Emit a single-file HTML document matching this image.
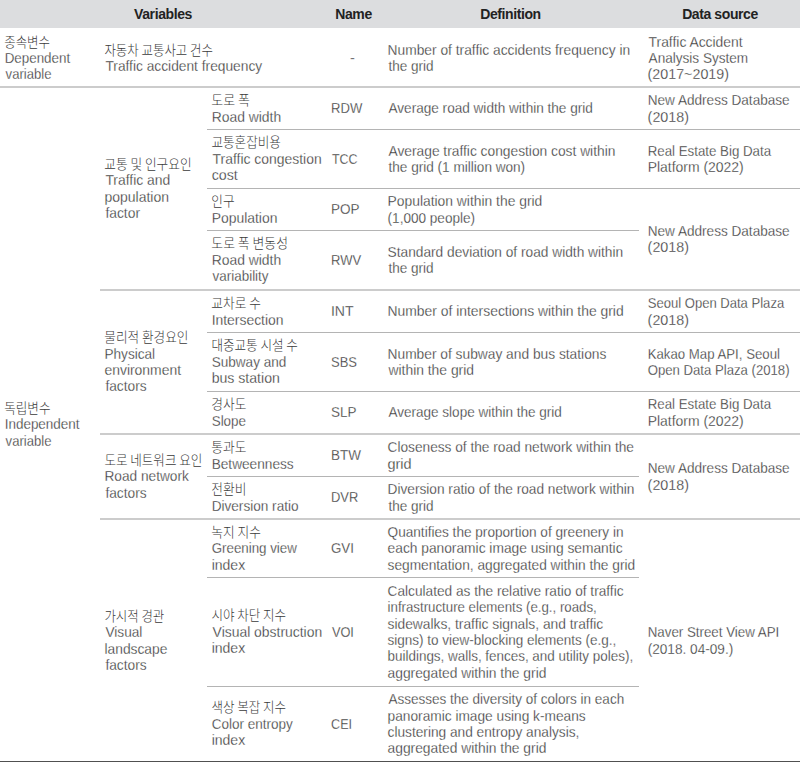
<!DOCTYPE html>
<html><head><meta charset="utf-8"><style>
html,body{margin:0;padding:0;background:#fff;}
body{width:800px;height:762px;position:relative;overflow:hidden;font-family:"Liberation Sans","Noto Sans CJK KR",sans-serif;font-size:14.6px;color:#303030;}
.hd{position:absolute;left:0;top:0;width:800px;height:28px;background:#dcdddf;}
.h{position:absolute;top:0;height:28px;line-height:28px;text-align:center;font-weight:bold;color:#222;font-size:14px;white-space:nowrap;letter-spacing:-0.4px;}
.ln{position:absolute;}
.c{position:absolute;display:flex;align-items:center;white-space:nowrap;}
.t{line-height:16.4px;-webkit-text-stroke:0.27px #fff;}
.l{display:inline-block;transform-origin:0 50%;}
.k{font-family:"Noto Sans CJK KR",sans-serif;font-size:12.3px;font-weight:300;-webkit-text-stroke:0;color:#3a3a3a;}
</style></head><body>
<div class="hd"></div>
<div class="h" style="left:0px;width:326px">Variables</div>
<div class="h" style="left:326px;width:55px">Name</div>
<div class="h" style="left:381px;width:259px">Definition</div>
<div class="h" style="left:640px;width:160px">Data source</div>
<div class="ln" style="left:0px;top:86px;width:800px;height:2px;background:#cccccc"></div>
<div class="ln" style="left:207px;top:129px;width:593px;height:1px;background:#b4b4b4"></div>
<div class="ln" style="left:207px;top:188px;width:593px;height:1px;background:#b4b4b4"></div>
<div class="ln" style="left:207px;top:230px;width:432px;height:1px;background:#b4b4b4"></div>
<div class="ln" style="left:100px;top:289px;width:700px;height:2px;background:#cccccc"></div>
<div class="ln" style="left:207px;top:332px;width:593px;height:1px;background:#b4b4b4"></div>
<div class="ln" style="left:207px;top:391px;width:593px;height:1px;background:#b4b4b4"></div>
<div class="ln" style="left:100px;top:433px;width:700px;height:2px;background:#cccccc"></div>
<div class="ln" style="left:207px;top:476px;width:432px;height:1px;background:#b4b4b4"></div>
<div class="ln" style="left:100px;top:518px;width:700px;height:2px;background:#cccccc"></div>
<div class="ln" style="left:207px;top:577px;width:432px;height:1px;background:#b4b4b4"></div>
<div class="ln" style="left:207px;top:686px;width:432px;height:1px;background:#b4b4b4"></div>
<div class="ln" style="left:0px;top:761px;width:800px;height:1px;background:#505050"></div>
<div class="c" style="left:5px;top:29.2px;height:58px"><div class="t"><span class="l k" style="transform:translateX(-0.81px) scale(1.0136,1.1)">종속변수</span><br><span class="l" style="transform:translateX(-0.32px) scaleX(0.9171)">Dependent</span><br><span class="l" style="transform:translateX(0.60px) scaleX(0.8980)">variable</span></div></div>
<div class="c" style="left:105px;top:29.2px;height:58px"><div class="t"><span class="l k" style="transform:translateX(-0.61px) scale(1.0123,1.1)">자동차 교통사고 건수</span><br><span class="l" style="transform:translateX(0.40px) scaleX(0.9428)">Traffic accident frequency</span></div></div>
<div class="c" style="left:325px;top:29.2px;width:55px;height:58px;justify-content:center"><div class="t">-</div></div>
<div class="c" style="left:388px;top:29.2px;height:58px"><div class="t"><span class="l" style="transform:translateX(-0.44px) scaleX(0.9443)">Number of traffic accidents frequency in</span><br><span class="l" style="transform:translateX(0.50px) scaleX(0.9271)">the grid</span></div></div>
<div class="c" style="left:648px;top:29.2px;height:58px"><div class="t"><span class="l" style="transform:translateX(0.60px) scaleX(0.9495)">Traffic Accident</span><br><span class="l" style="transform:translateX(0.60px) scaleX(0.9302)">Analysis System</span><br><span class="l" style="transform:translateX(-0.38px) scaleX(0.9778)">(2017~2019)</span></div></div>
<div class="c" style="left:5px;top:88px;height:673px"><div class="t"><span class="l k" style="transform:translateX(-0.82px) scale(1.0227,1.1)">독립변수</span><br><span class="l" style="transform:translateX(-0.32px) scaleX(0.9225)">Independent</span><br><span class="l" style="transform:translateX(0.60px) scaleX(0.8980)">variable</span></div></div>
<div class="c" style="left:105px;top:88px;height:201px"><div class="t"><span class="l k" style="transform:translateX(-0.63px) scale(1.0305,1.1)">교통 및 인구요인</span><br><span class="l" style="transform:translateX(0.40px) scaleX(0.9522)">Traffic and</span><br><span class="l" style="transform:translateX(-0.56px) scaleX(0.9576)">population</span><br><span class="l" style="transform:translateX(0.40px) scaleX(0.9486)">factor</span></div></div>
<div class="c" style="left:105px;top:291px;height:142px"><div class="t"><span class="l k" style="transform:translateX(-0.63px) scale(1.0266,1.1)">물리적 환경요인</span><br><span class="l" style="transform:translateX(-0.53px) scaleX(0.9321)">Physical</span><br><span class="l" style="transform:translateX(-0.55px) scaleX(0.9532)">environment</span><br><span class="l" style="transform:translateX(0.40px) scaleX(0.9409)">factors</span></div></div>
<div class="c" style="left:105px;top:435px;height:83px"><div class="t"><span class="l k" style="transform:translateX(-0.62px) scale(1.0213,1.1)">도로 네트워크 요인</span><br><span class="l" style="transform:translateX(-0.54px) scaleX(0.9371)">Road network</span><br><span class="l" style="transform:translateX(0.40px) scaleX(0.9409)">factors</span></div></div>
<div class="c" style="left:105px;top:520px;height:241px"><div class="t"><span class="l k" style="transform:translateX(-0.61px) scale(1.0103,1.1)">가시적 경관</span><br><span class="l" style="transform:translateX(0.40px) scaleX(0.9359)">Visual</span><br><span class="l" style="transform:translateX(-0.55px) scaleX(0.9462)">landscape</span><br><span class="l" style="transform:translateX(0.40px) scaleX(0.9409)">factors</span></div></div>
<div class="c" style="left:212px;top:88px;height:41px"><div class="t"><span class="l k" style="transform:translateX(-0.65px) scale(1.0514,1.1)">도로 폭</span><br><span class="l" style="transform:translateX(-0.35px) scaleX(0.9521)">Road width</span></div></div>
<div class="c" style="left:331px;top:88px;height:41px"><div class="t"><span class="l" style="transform:translateX(0.00px) scaleX(0.8971)">RDW</span></div></div>
<div class="c" style="left:388px;top:88px;height:41px"><div class="t"><span class="l" style="transform:translateX(0.50px) scaleX(0.9306)">Average road width within the grid</span></div></div>
<div class="c" style="left:648px;top:88px;height:41px"><div class="t"><span class="l" style="transform:translateX(-0.33px) scaleX(0.9311)">New Address Database</span><br><span class="l" style="transform:translateX(-0.38px) scaleX(0.9800)">(2018)</span></div></div>
<div class="c" style="left:212px;top:130px;height:58px"><div class="t"><span class="l k" style="transform:translateX(-0.62px) scale(1.0242,1.1)">교통혼잡비용</span><br><span class="l" style="transform:translateX(0.60px) scaleX(0.9535)">Traffic congestion</span><br><span class="l" style="transform:translateX(-0.37px) scaleX(0.9731)">cost</span></div></div>
<div class="c" style="left:331px;top:130px;height:58px"><div class="t"><span class="l" style="transform:translateX(0.90px) scaleX(0.8586)">TCC</span></div></div>
<div class="c" style="left:388px;top:130px;height:58px"><div class="t"><span class="l" style="transform:translateX(0.50px) scaleX(0.9437)">Average traffic congestion cost within</span><br><span class="l" style="transform:translateX(0.50px) scaleX(0.9308)">the grid (1 million won)</span></div></div>
<div class="c" style="left:648px;top:130px;height:58px"><div class="t"><span class="l" style="transform:translateX(-0.31px) scaleX(0.9104)">Real Estate Big Data</span><br><span class="l" style="transform:translateX(-0.36px) scaleX(0.9556)">Platform (2022)</span></div></div>
<div class="c" style="left:212px;top:189px;height:41px"><div class="t"><span class="l k" style="transform:translateX(-0.63px) scale(1.0286,1.1)">인구</span><br><span class="l" style="transform:translateX(-0.35px) scaleX(0.9537)">Population</span></div></div>
<div class="c" style="left:331px;top:189px;height:41px"><div class="t"><span class="l" style="transform:translateX(-0.02px) scaleX(0.9241)">POP</span></div></div>
<div class="c" style="left:388px;top:189px;height:41px"><div class="t"><span class="l" style="transform:translateX(-0.45px) scaleX(0.9491)">Population within the grid</span><br><span class="l" style="transform:translateX(-0.43px) scaleX(0.9293)">(1,000 people)</span></div></div>
<div class="c" style="left:212px;top:231px;height:58px"><div class="t"><span class="l k" style="transform:translateX(-0.65px) scale(1.0451,1.1)">도로 폭 변동성</span><br><span class="l" style="transform:translateX(-0.35px) scaleX(0.9521)">Road width</span><br><span class="l" style="transform:translateX(0.60px) scaleX(0.9197)">variability</span></div></div>
<div class="c" style="left:331px;top:231px;height:58px"><div class="t"><span class="l" style="transform:translateX(0.01px) scaleX(0.8939)">RWV</span></div></div>
<div class="c" style="left:388px;top:231px;height:58px"><div class="t"><span class="l" style="transform:translateX(-0.44px) scaleX(0.9398)">Standard deviation of road width within</span><br><span class="l" style="transform:translateX(0.50px) scaleX(0.9271)">the grid</span></div></div>
<div class="c" style="left:212px;top:291px;height:41px"><div class="t"><span class="l k" style="transform:translateX(-0.63px) scale(1.0326,1.1)">교차로 수</span><br><span class="l" style="transform:translateX(-0.35px) scaleX(0.9527)">Intersection</span></div></div>
<div class="c" style="left:331px;top:291px;height:41px"><div class="t"><span class="l" style="transform:translateX(-0.06px) scaleX(0.9636)">INT</span></div></div>
<div class="c" style="left:388px;top:291px;height:41px"><div class="t"><span class="l" style="transform:translateX(-0.45px) scaleX(0.9512)">Number of intersections within the grid</span></div></div>
<div class="c" style="left:648px;top:291px;height:41px"><div class="t"><span class="l" style="transform:translateX(-0.29px) scaleX(0.8947)">Seoul Open Data Plaza</span><br><span class="l" style="transform:translateX(-0.38px) scaleX(0.9800)">(2018)</span></div></div>
<div class="c" style="left:212px;top:333px;height:58px"><div class="t"><span class="l k" style="transform:translateX(-0.62px) scale(1.0229,1.1)">대중교통 시설 수</span><br><span class="l" style="transform:translateX(-0.33px) scaleX(0.9291)">Subway and</span><br><span class="l" style="transform:translateX(-0.37px) scaleX(0.9667)">bus station</span></div></div>
<div class="c" style="left:331px;top:333px;height:58px"><div class="t"><span class="l" style="transform:translateX(0.01px) scaleX(0.8893)">SBS</span></div></div>
<div class="c" style="left:388px;top:333px;height:58px"><div class="t"><span class="l" style="transform:translateX(-0.44px) scaleX(0.9429)">Number of subway and bus stations</span><br><span class="l" style="transform:translateX(0.50px) scaleX(0.9494)">within the grid</span></div></div>
<div class="c" style="left:648px;top:333px;height:58px"><div class="t"><span class="l" style="transform:translateX(-0.31px) scaleX(0.9056)">Kakao Map API, Seoul</span><br><span class="l" style="transform:translateX(-0.30px) scaleX(0.9013)">Open Data Plaza (2018)</span></div></div>
<div class="c" style="left:212px;top:392px;height:41px"><div class="t"><span class="l k" style="transform:translateX(-0.63px) scale(1.0344,1.1)">경사도</span><br><span class="l" style="transform:translateX(-0.32px) scaleX(0.9194)">Slope</span></div></div>
<div class="c" style="left:331px;top:392px;height:41px"><div class="t"><span class="l" style="transform:translateX(-0.02px) scaleX(0.9231)">SLP</span></div></div>
<div class="c" style="left:388px;top:392px;height:41px"><div class="t"><span class="l" style="transform:translateX(0.50px) scaleX(0.9263)">Average slope within the grid</span></div></div>
<div class="c" style="left:648px;top:392px;height:41px"><div class="t"><span class="l" style="transform:translateX(-0.31px) scaleX(0.9104)">Real Estate Big Data</span><br><span class="l" style="transform:translateX(-0.36px) scaleX(0.9556)">Platform (2022)</span></div></div>
<div class="c" style="left:212px;top:435px;height:41px"><div class="t"><span class="l k" style="transform:translateX(-0.63px) scale(1.0344,1.1)">통과도</span><br><span class="l" style="transform:translateX(-0.34px) scaleX(0.9360)">Betweenness</span></div></div>
<div class="c" style="left:331px;top:435px;height:41px"><div class="t"><span class="l" style="transform:translateX(-0.02px) scaleX(0.9226)">BTW</span></div></div>
<div class="c" style="left:388px;top:435px;height:41px"><div class="t"><span class="l" style="transform:translateX(-0.44px) scaleX(0.9375)">Closeness of the road network within the</span><br><span class="l" style="transform:translateX(-0.49px) scaleX(0.9913)">grid</span></div></div>
<div class="c" style="left:212px;top:477px;height:41px"><div class="t"><span class="l k" style="transform:translateX(-0.63px) scale(1.0344,1.1)">전환비</span><br><span class="l" style="transform:translateX(-0.33px) scaleX(0.9315)">Diversion ratio</span></div></div>
<div class="c" style="left:331px;top:477px;height:41px"><div class="t"><span class="l" style="transform:translateX(0.01px) scaleX(0.8862)">DVR</span></div></div>
<div class="c" style="left:388px;top:477px;height:41px"><div class="t"><span class="l" style="transform:translateX(-0.44px) scaleX(0.9366)">Diversion ratio of the road network within</span><br><span class="l" style="transform:translateX(0.50px) scaleX(0.9271)">the grid</span></div></div>
<div class="c" style="left:212px;top:520px;height:57px"><div class="t"><span class="l k" style="transform:translateX(-0.63px) scale(1.0326,1.1)">녹지 지수</span><br><span class="l" style="transform:translateX(-0.31px) scaleX(0.9130)">Greening view</span><br><span class="l" style="transform:translateX(-0.36px) scaleX(0.9606)">index</span></div></div>
<div class="c" style="left:331px;top:520px;height:57px"><div class="t"><span class="l" style="transform:translateX(-0.01px) scaleX(0.9130)">GVI</span></div></div>
<div class="c" style="left:388px;top:520px;height:57px"><div class="t"><span class="l" style="transform:translateX(-0.43px) scaleX(0.9323)">Quantifies the proportion of greenery in</span><br><span class="l" style="transform:translateX(-0.44px) scaleX(0.9435)">each panoramic image using semantic</span><br><span class="l" style="transform:translateX(-0.44px) scaleX(0.9389)">segmentation, aggregated within the grid</span></div></div>
<div class="c" style="left:212px;top:578px;height:108px"><div class="t"><span class="l k" style="transform:translateX(-0.62px) scale(1.0194,1.1)">시야 차단 지수</span><br><span class="l" style="transform:translateX(0.60px) scaleX(0.9535)">Visual obstruction</span><br><span class="l" style="transform:translateX(-0.36px) scaleX(0.9606)">index</span></div></div>
<div class="c" style="left:331px;top:578px;height:108px"><div class="t"><span class="l" style="transform:translateX(0.90px) scaleX(0.8750)">VOI</span></div></div>
<div class="c" style="left:388px;top:578px;height:108px"><div class="t"><span class="l" style="transform:translateX(-0.44px) scaleX(0.9363)">Calculated as the relative ratio of traffic</span><br><span class="l" style="transform:translateX(-0.41px) scaleX(0.9079)">infrastructure elements (e.g., roads,</span><br><span class="l" style="transform:translateX(-0.44px) scaleX(0.9449)">sidewalks, traffic signals, and traffic</span><br><span class="l" style="transform:translateX(-0.42px) scaleX(0.9245)">signs) to view-blocking elements (e.g.,</span><br><span class="l" style="transform:translateX(-0.42px) scaleX(0.9200)">buildings, walls, fences, and utility poles),</span><br><span class="l" style="transform:translateX(-0.45px) scaleX(0.9458)">aggregated within the grid</span></div></div>
<div class="c" style="left:212px;top:687px;height:74px"><div class="t"><span class="l k" style="transform:translateX(-0.62px) scale(1.0194,1.1)">색상 복잡 지수</span><br><span class="l" style="transform:translateX(-0.33px) scaleX(0.9253)">Color entropy</span><br><span class="l" style="transform:translateX(-0.36px) scaleX(0.9606)">index</span></div></div>
<div class="c" style="left:331px;top:687px;height:74px"><div class="t"><span class="l" style="transform:translateX(0.04px) scaleX(0.8636)">CEI</span></div></div>
<div class="c" style="left:388px;top:687px;height:74px"><div class="t"><span class="l" style="transform:translateX(0.50px) scaleX(0.9252)">Assesses the diversity of colors in each</span><br><span class="l" style="transform:translateX(-0.44px) scaleX(0.9395)">panoramic image using k-means</span><br><span class="l" style="transform:translateX(-0.44px) scaleX(0.9381)">clustering and entropy analysis,</span><br><span class="l" style="transform:translateX(-0.45px) scaleX(0.9458)">aggregated within the grid</span></div></div>
<div class="c" style="left:648px;top:189px;height:100px"><div class="t"><span class="l" style="transform:translateX(-0.33px) scaleX(0.9311)">New Address Database</span><br><span class="l" style="transform:translateX(-0.38px) scaleX(0.9800)">(2018)</span></div></div>
<div class="c" style="left:648px;top:435px;height:83px"><div class="t"><span class="l" style="transform:translateX(-0.33px) scaleX(0.9311)">New Address Database</span><br><span class="l" style="transform:translateX(-0.38px) scaleX(0.9800)">(2018)</span></div></div>
<div class="c" style="left:648px;top:520px;height:241px"><div class="t"><span class="l" style="transform:translateX(-0.31px) scaleX(0.9127)">Naver Street View API</span><br><span class="l" style="transform:translateX(-0.33px) scaleX(0.9333)">(2018. 04-09.)</span></div></div>
</body></html>
